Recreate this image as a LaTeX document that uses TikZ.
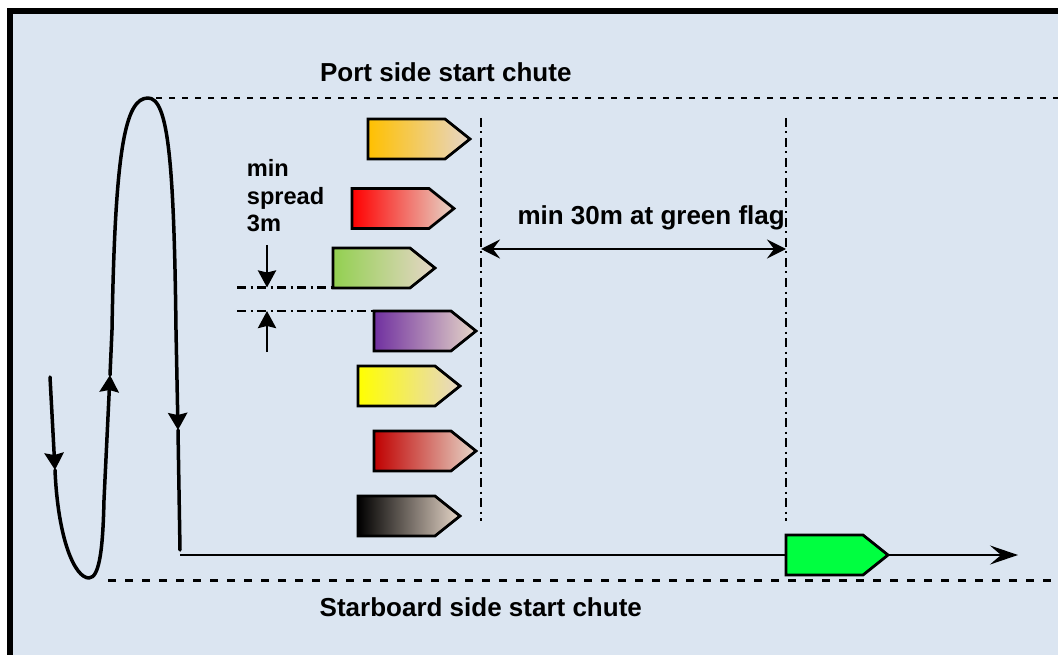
\documentclass[tikz,border=0pt]{standalone}
\usepackage{fontspec}
\setmainfont{Liberation Sans}
\usetikzlibrary{arrows.meta}
\definecolor{bgblue}{HTML}{DBE5F1}
\definecolor{tanend}{HTML}{E6D6C8}
\definecolor{boatgold}{HTML}{FFC000}
\definecolor{boatred}{HTML}{FF0000}
\definecolor{boatlime}{HTML}{92D050}
\definecolor{boatpurple}{HTML}{7030A0}
\definecolor{boatyellow}{HTML}{FFFF00}
\definecolor{boatdarkred}{HTML}{C00000}
\definecolor{boatblack}{HTML}{000000}
\definecolor{boatgreen}{HTML}{00FF40}
\tikzset{
  grad/.style={left color=#1, middle color=#1!72!tanend, right color=tanend},
  boatline/.style={draw=black, line width=2.8pt, line join=miter},
  pics/boat/.style={code={
    \draw[boatline,#1] (0,0) -- (77,0) -- (102,20) -- (77,40) -- (0,40) -- cycle;
    \coordinate (-w) at (0,20);
    \coordinate (-e) at (102,20);
  }},
  course/.style={line width=3.5pt, line cap=round, line join=round},
  ctip/.style={-{Stealth[length=17pt,width=19pt,inset=2pt]}},
  chute/.style={line width=2.2pt, dash pattern=on 6pt off 7pt},
  chuteb/.style={line width=2.8pt, dash pattern=on 8pt off 9pt},
  dashdotline/.style={line width=2.2pt, dash pattern=on 9pt off 4.5pt on 2pt off 4.5pt},
  thinline/.style={line width=2.2pt},
  lbl/.style={font=\fontsize{26}{30}\selectfont\bfseries, inner sep=0pt},
  smalllbl/.style={font=\fontsize{23.6}{27.8}\selectfont\bfseries, inner sep=0pt, align=left},
}
\begin{document}
\begin{tikzpicture}[x=1pt,y=-1pt]
\useasboundingbox (0,0) rectangle (1058,655);
\clip (0,0) rectangle (1058,655);
\fill[white] (0,0) rectangle (1058,655);
\fill[bgblue] (13,14) rectangle (1058,655);
\draw[line width=6pt, line join=miter] (10.3,660) -- (10.3,11.3) -- (1065,11.3);

% chute lines
\coordinate (pstart) at (156,98);
\coordinate (pend) at (1058,98);
\coordinate (sstart) at (108,580.5);
\coordinate (send) at (1058,580.5);
\draw[chute] (pstart) -- (pend);
\draw[chuteb] (sstart) -- (send);

% labels
\node[lbl, anchor=base] (port) at (445.8,81.7) {Port side start chute};
\node[lbl, anchor=base] (stbd) at (480.8,616.7) {Starboard side start chute};
\node[lbl, anchor=base west] (thirty) at (517.3,225) {min 30m at green flag};
\node[smalllbl, anchor=base west] (spread) at (246.7,232) {min\\spread\\3m};

% vertical dash-dot lines
\coordinate (v1t) at (481,118);
\coordinate (v1b) at (481,521);
\coordinate (v2t) at (786,118);
\coordinate (v2b) at (786,521);
\draw[dashdotline] (v1t) -- (v1b);
\draw[dashdotline] (v2t) -- (v2b);

% double arrow
\coordinate (da1) at (481,249);
\coordinate (da2) at (786,249);
\draw[line width=2.6pt, {Stealth[length=19pt,width=19pt,inset=7pt]}-{Stealth[length=19pt,width=19pt,inset=7pt]}] (da1) -- (da2);

% boats
\pic (b1) at (368,119) {boat={grad=boatgold}};
\pic (b2) at (352,188.5) {boat={grad=boatred}};
\pic (b3) at (333,248) {boat={grad=boatlime}};
\pic (b4) at (374,311) {boat={grad=boatpurple}};
\pic (b5) at (358,366) {boat={grad=boatyellow}};
\pic (b6) at (374,431) {boat={grad=boatdarkred}};
\pic (b7) at (358,496) {boat={grad=boatblack}};
\pic (gb) at (786,535) {boat={fill=boatgreen}};

% spread lines and arrows
\coordinate (s1a) at (237,287.5);
\coordinate (s1b) at (333,287.5);
\coordinate (s2a) at (237,311);
\coordinate (s2b) at (374,311);
\draw[dashdotline] (s1a) -- (s1b);
\draw[dashdotline] (s2a) -- (s2b);
\coordinate (ar1) at (267,245);
\coordinate (ar1t) at (267,287.5);
\coordinate (ar2) at (267,352);
\coordinate (ar2t) at (267,311);
\draw[line width=2.8pt, -{Stealth[length=17pt,width=18pt,inset=2pt]}] (ar1) -- (ar1t);
\draw[line width=2.8pt, -{Stealth[length=17pt,width=18pt,inset=2pt]}] (ar2) -- (ar2t);

% course path
\coordinate (c0) at (50,377);
\coordinate (c1) at (55,470);
\coordinate (c2) at (110,375);
\coordinate (c3) at (178,430);
\coordinate (c4) at (180,550);
\draw[course, ctip] (c0) -- (c1);
\draw[course, ctip] (c1) .. controls (58,540) and (75,578) .. (89,578)
   .. controls (100,578) and (103,545) .. (104,500) -- (c2);
\draw[course, ctip] (c2) -- (112,330) .. controls (115,150) and (125,98) .. (148,98)
   .. controls (168,98) and (174,160) .. (176,330) -- (c3);
\draw[course] (c3) -- (c4);

% thin line to green boat and beyond
\coordinate (ce) at (180,555);
\coordinate (fin) at (1018,555);
\draw[thinline] (ce) -- (gb-w);
\draw[thinline, -{Stealth[length=28pt,width=19pt,inset=11pt]}] (gb-e) -- (fin);
\end{tikzpicture}
\end{document}
